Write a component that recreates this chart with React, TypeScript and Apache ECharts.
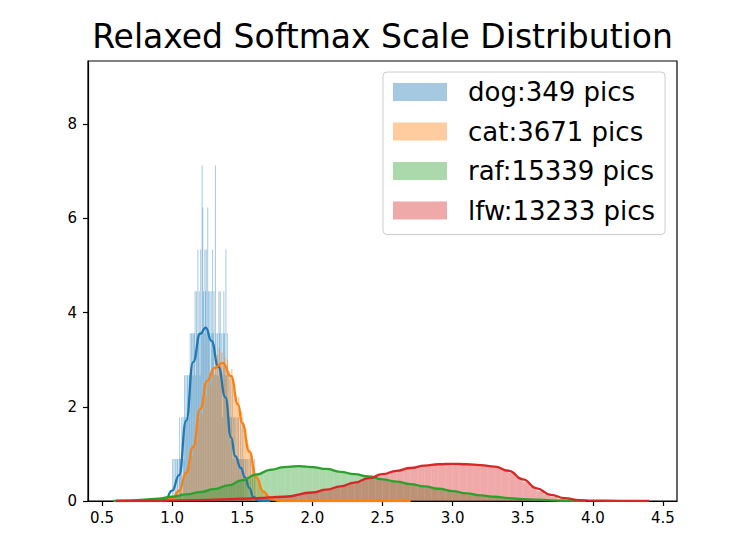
import React, { useEffect, useRef } from "react";
import * as echarts from "echarts";

const TITLE = "Relaxed Softmax Scale Distribution";
const LABELS = ["dog:349 pics", "cat:3671 pics", "raf:15339 pics", "lfw:13233 pics"];
const COLORS = ["#1f77b4", "#ff7f0e", "#2ca02c", "#d62728"];
const FILLS = [
  "rgba(31,119,180,0.4)",
  "rgba(255,127,14,0.4)",
  "rgba(44,160,44,0.4)",
  "rgba(214,39,40,0.4)",
];
const X_TICKS = [0.5, 1.0, 1.5, 2.0, 2.5, 3.0, 3.5, 4.0, 4.5];
const Y_TICKS = [0, 2, 4, 6, 8];
const X_MIN = 0.4;
const X_MAX = 4.6;
const Y_MAX = 9.34;

// dog histogram: counts per very thin bin, 1 pic = 0.89 density
const DOG_START = 1.0;
const DOG_WIDTH = 0.005;
const DOG_DENSITY_PER_PIC = 0.89;
const dogCounts = [
  1, 0, 1, 0, 1, 0, 1, 1, 0, 1,
  2, 1, 1, 2, 0, 2, 1, 3, 2, 3,
  2, 3, 3, 2, 3, 4, 3, 4, 4, 3,
  4, 4, 5, 3, 5, 4, 6, 4, 5, 3,
  6, 4, 8, 7, 5, 4, 6, 5, 6, 4,
  7, 5, 4, 5, 3, 5, 4, 6, 4, 5,
  3, 8, 4, 3, 4, 3, 5, 4, 5, 3,
  4, 2, 4, 5, 4, 3, 6, 3, 4, 2,
  3, 2, 3, 2, 2, 3, 1, 2, 2, 1,
  2, 1, 2, 1, 2, 1, 1, 2, 1, 1,
  2, 1, 1, 0, 1, 1, 0, 1, 0, 1,
  0, 1, 0, 0, 1, 0, 0, 1, 0, 0,
];

// cat histogram (density), bins of 0.01 from 1.00
const CAT_START = 1.0;
const CAT_WIDTH = 0.01;
const catHist = [
  0.05, 0.1, 0.08, 0.15, 0.2, 0.25, 0.3, 0.45, 0.4, 0.6,
  0.7, 0.65, 0.9, 1.0, 0.95, 1.2, 1.35, 1.3, 1.6, 1.75,
  1.9, 1.85, 2.15, 2.3, 2.2, 2.5, 2.6, 2.45, 2.75, 2.85,
  2.7, 2.95, 3.1, 3.25, 2.9, 3.15, 2.95, 3.05, 2.8, 3.0,
  2.75, 2.6, 2.8, 2.4, 2.5, 2.25, 2.1, 2.2, 1.85, 1.9,
  1.65, 1.5, 1.55, 1.3, 1.2, 1.1, 0.95, 0.85, 0.7, 0.6,
  0.55, 0.45, 0.35, 0.3, 0.25, 0.2, 0.15, 0.1, 0.08, 0.06,
  0.05, 0.03, 0.02, 0.01, 0.01,
];

// raf histogram (density), bins of 0.05 from 0.80
const RAF_START = 0.8;
const RAF_WIDTH = 0.05;
const rafHist = [
  0.04, 0.05, 0.06, 0.08, 0.1, 0.12, 0.15, 0.17, 0.2, 0.24,
  0.27, 0.31, 0.36, 0.41, 0.47, 0.53, 0.59, 0.64, 0.69, 0.72,
  0.74, 0.76, 0.76, 0.74, 0.72, 0.69, 0.66, 0.63, 0.61, 0.58,
  0.55, 0.53, 0.5, 0.47, 0.45, 0.42, 0.39, 0.37, 0.34, 0.32,
  0.29, 0.27, 0.24, 0.22, 0.19, 0.17, 0.14, 0.12, 0.1, 0.09,
  0.07, 0.06, 0.05, 0.04, 0.03, 0.02, 0.02, 0.01, 0.01, 0.005,
];

// lfw histogram (density), bins of 0.05 from 1.00
const LFW_START = 1.0;
const LFW_WIDTH = 0.05;
const lfwHist = [
  0.02, 0.02, 0.02, 0.02, 0.03, 0.03, 0.03, 0.04, 0.04, 0.05,
  0.05, 0.06, 0.06, 0.07, 0.08, 0.09, 0.11, 0.13, 0.15, 0.17,
  0.19, 0.22, 0.26, 0.29, 0.33, 0.37, 0.42, 0.46, 0.5, 0.54,
  0.58, 0.62, 0.65, 0.68, 0.72, 0.74, 0.76, 0.78, 0.79, 0.8,
  0.79, 0.79, 0.78, 0.77, 0.76, 0.74, 0.72, 0.68, 0.6, 0.5,
  0.4, 0.3, 0.21, 0.14, 0.09, 0.05, 0.03, 0.02, 0.01, 0.005,
];

// KDE curves
const dogKdeX = [0.6, 0.9, 0.95, 1.0, 1.05, 1.1, 1.15, 1.2, 1.24, 1.28, 1.33, 1.38, 1.42, 1.45, 1.49, 1.52, 1.55, 1.58, 1.62, 1.7];
const dogKdeY = [0, 0, 0.02, 0.22, 0.55, 1.7, 2.95, 3.55, 3.68, 3.4, 2.85, 2.2, 1.35, 0.95, 0.7, 0.5, 0.28, 0.08, 0.01, 0];

const catKdeX = [0.95, 1.0, 1.05, 1.1, 1.15, 1.2, 1.25, 1.3, 1.36, 1.42, 1.47, 1.5, 1.55, 1.6, 1.65, 1.7, 1.75, 1.8, 2.2, 2.7];
const catKdeY = [0, 0.05, 0.22, 0.6, 1.15, 1.95, 2.55, 2.82, 2.93, 2.65, 2.05, 1.65, 1.05, 0.5, 0.2, 0.06, 0.01, 0, 0, 0];

const rafKdeX = [0.58, 0.7, 0.8, 0.9, 1.0, 1.1, 1.2, 1.3, 1.4, 1.5, 1.6, 1.7, 1.8, 1.9, 2.0, 2.1, 2.2, 2.3, 2.4, 2.5, 2.6, 2.7, 2.8, 2.9, 3.0, 3.1, 3.2, 3.3, 3.4, 3.5, 3.6, 3.7, 3.8, 3.95];
const rafKdeY = [0, 0.01, 0.03, 0.05, 0.09, 0.14, 0.19, 0.25, 0.33, 0.44, 0.56, 0.66, 0.72, 0.74, 0.72, 0.68, 0.62, 0.57, 0.52, 0.46, 0.41, 0.36, 0.31, 0.26, 0.21, 0.16, 0.12, 0.09, 0.06, 0.04, 0.03, 0.015, 0.005, 0];

const lfwKdeX = [0.6, 0.9, 1.2, 1.4, 1.6, 1.8, 2.0, 2.1, 2.2, 2.3, 2.4, 2.5, 2.6, 2.7, 2.8, 2.9, 3.0, 3.1, 3.2, 3.3, 3.4, 3.5, 3.6, 3.7, 3.8, 3.9, 4.0, 4.2, 4.4];
const lfwKdeY = [0, 0.005, 0.02, 0.04, 0.06, 0.09, 0.18, 0.24, 0.31, 0.39, 0.48, 0.57, 0.64, 0.7, 0.75, 0.78, 0.79, 0.78, 0.76, 0.73, 0.64, 0.46, 0.27, 0.13, 0.06, 0.02, 0.008, 0.002, 0];

const FONT = "DejaVu Sans";

function bins(start: number, width: number, heights: number[]) {
  return heights.map((h, i) => [start + i * width, start + (i + 1) * width, h]);
}

function pairs(xs: number[], ys: number[]) {
  return xs.map((x, i) => [x, ys[i]]);
}

function histSeries(name: string, fill: string, data: number[][], minPx: number) {
  return {
    type: "custom",
    name,
    data,
    encode: { x: [0, 1], y: 2 },
    clip: true,
    renderItem: (params: any, api: any) => {
      const p0 = api.coord([api.value(0), api.value(2)]);
      const p1 = api.coord([api.value(1), 0]);
      const w = Math.max(p1[0] - p0[0], minPx);
      return {
        type: "rect",
        shape: { x: p0[0], y: p0[1], width: w, height: p1[1] - p0[1] },
        style: { fill },
      };
    },
  };
}

function kdeSeries(name: string, color: string, data: number[][]) {
  return {
    type: "line",
    name,
    data,
    smooth: 0.5,
    smoothMonotone: "x",
    showSymbol: false,
    symbol: "none",
    clip: true,
    lineStyle: { color, width: 2.3 },
  };
}

export default function App() {
  const ref = useRef<HTMLDivElement>(null);

  useEffect(() => {
    if (!ref.current) return;
    const chart = echarts.init(ref.current, undefined, { renderer: "svg" });
    const dogHist = dogCounts.map((c) => c * DOG_DENSITY_PER_PIC);
    const option: any = {
      animation: false,
      backgroundColor: "#ffffff",
      textStyle: { fontFamily: FONT },
      grid: {
        left: 88,
        right: 67,
        top: 61,
        bottom: 54,
        show: true,
        borderColor: "#000",
        borderWidth: 1.2,
        backgroundColor: "transparent",
      },
      graphic: [
        {
          type: "text",
          x: 382.5,
          y: 36,
          style: {
            text: TITLE,
            fontSize: 33,
            fontFamily: FONT,
            fill: "#000",
            align: "center",
            verticalAlign: "middle",
          },
        },
      ],
      legend: {
        left: 383,
        top: 72,
        orient: "vertical",
        selectedMode: false,
        backgroundColor: "rgba(255,255,255,0.8)",
        borderColor: "#cccccc",
        borderWidth: 1,
        borderRadius: 4,
        padding: [7, 10, 11, 10],
        itemWidth: 54,
        itemHeight: 18,
        itemGap: 13.5,
        icon: "rect",
        textStyle: { fontSize: 26, fontFamily: FONT, color: "#000", lineHeight: 26, padding: [0, 0, 0, 16] },
        data: LABELS.map((n, i) => ({ name: n, icon: "rect", itemStyle: { color: FILLS[i] } })),
      },
      xAxis: {
        type: "value",
        min: X_MIN,
        max: X_MAX,
        splitLine: { show: false },
        axisLine: { show: true, onZero: false, lineStyle: { color: "#000", width: 1.2 } },
        axisTick: {
          show: true,
          length: 5,
          lineStyle: { color: "#000", width: 1.2 },
          customValues: X_TICKS,
        },
        axisLabel: {
          color: "#000",
          fontSize: 15,
          fontFamily: FONT,
          margin: 9,
          customValues: X_TICKS,
          formatter: (v: number) => v.toFixed(1),
        },
      },
      yAxis: {
        type: "value",
        min: 0,
        max: Y_MAX,
        splitLine: { show: false },
        axisLine: { show: true, lineStyle: { color: "#000", width: 1.2 } },
        axisTick: {
          show: true,
          length: 5,
          lineStyle: { color: "#000", width: 1.2 },
          customValues: Y_TICKS,
        },
        axisLabel: {
          color: "#000",
          fontSize: 15,
          fontFamily: FONT,
          margin: 11,
          customValues: Y_TICKS,
          formatter: (v: number) => String(v),
        },
      },
      series: [
        histSeries(LABELS[0], FILLS[0], bins(DOG_START, DOG_WIDTH, dogHist), 1),
        kdeSeries("dog kde", COLORS[0], pairs(dogKdeX, dogKdeY)),
        histSeries(LABELS[1], FILLS[1], bins(CAT_START, CAT_WIDTH, catHist), 0),
        kdeSeries("cat kde", COLORS[1], pairs(catKdeX, catKdeY)),
        histSeries(LABELS[2], FILLS[2], bins(RAF_START, RAF_WIDTH, rafHist), 0),
        kdeSeries("raf kde", COLORS[2], pairs(rafKdeX, rafKdeY)),
        histSeries(LABELS[3], FILLS[3], bins(LFW_START, LFW_WIDTH, lfwHist), 0),
        kdeSeries("lfw kde", COLORS[3], pairs(lfwKdeX, lfwKdeY)),
      ],
    };
    chart.setOption(option);
    return () => chart.dispose();
  }, []);

  return (
    <div
      ref={ref}
      style={{ position: "fixed", left: 0, top: 0, width: 744, height: 555, background: "#fff" }}
    />
  );
}
